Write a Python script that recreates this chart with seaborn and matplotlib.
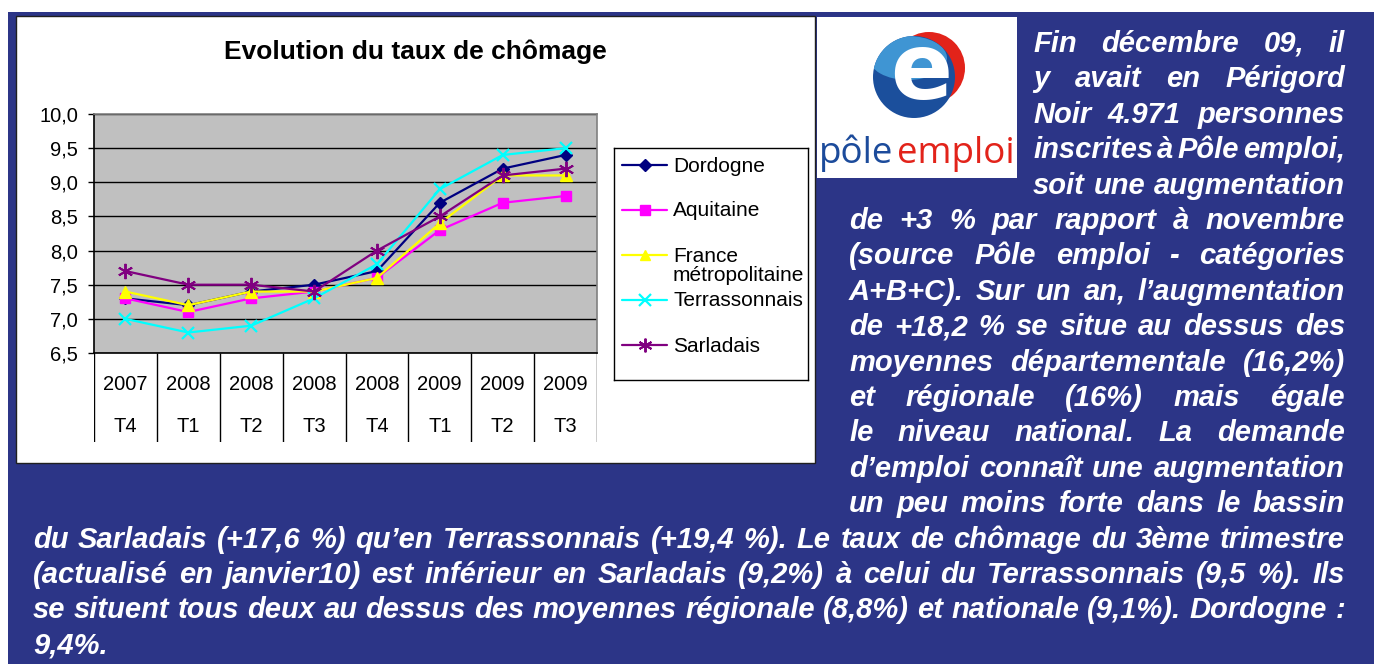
import matplotlib
matplotlib.use("Agg")
import matplotlib.pyplot as plt
from matplotlib import font_manager
from matplotlib.font_manager import FontProperties
from matplotlib.patches import Rectangle, Circle, Ellipse
import pandas as pd
import seaborn as sns

W, H = 1374, 664

# data
years = ["2007", "2008", "2008", "2008", "2008", "2009", "2009", "2009"]
quarters = ["T4", "T1", "T2", "T3", "T4", "T1", "T2", "T3"]
dordogne = [7.3, 7.2, 7.4, 7.5, 7.7, 8.7, 9.2, 9.4]
aquitaine = [7.3, 7.1, 7.3, 7.4, 7.6, 8.3, 8.7, 8.8]
france = [7.4, 7.2, 7.4, 7.4, 7.6, 8.4, 9.1, 9.1]
terrassonnais = [7.0, 6.8, 6.9, 7.3, 7.8, 8.9, 9.4, 9.5]
sarladais = [7.7, 7.5, 7.5, 7.4, 8.0, 8.5, 9.1, 9.2]
series_labels = ["Dordogne", "Aquitaine", "France\nmétropolitaine", "Terrassonnais", "Sarladais"]
y_ticks = [6.5, 7.0, 7.5, 8.0, 8.5, 9.0, 9.5, 10.0]
y_tick_labels = ["6,5", "7,0", "7,5", "8,0", "8,5", "9,0", "9,5", "10,0"]
title = "Evolution du taux de chômage"

text_right_top = [
    "Fin décembre 09, il",
    "y avait en Périgord",
    "Noir 4.971 personnes",
    "inscrites à Pôle emploi,",
    "soit une augmentation",
]
text_right_mid = [
    "de +3 % par rapport à novembre",
    "(source Pôle emploi - catégories",
    "A+B+C). Sur un an, l’augmentation",
    "de +18,2 % se situe au dessus des",
    "moyennes départementale (16,2%)",
    "et régionale (16%) mais égale",
    "le niveau national. La demande",
    "d’emploi connaît une augmentation",
    "un peu moins forte dans le bassin",
]
text_bottom = [
    "du Sarladais (+17,6 %) qu’en Terrassonnais (+19,4 %). Le taux de chômage du 3ème trimestre",
    "(actualisé en janvier10) est inférieur en Sarladais (9,2%) à celui du Terrassonnais (9,5 %). Ils",
    "se situent tous deux au dessus des moyennes régionale (8,8%) et nationale (9,1%). Dordogne :",
    "9,4%.",
]

df = pd.DataFrame({
    "pos": range(len(years)),
    "Dordogne": dordogne,
    "Aquitaine": aquitaine,
    "France": france,
    "Terrassonnais": terrassonnais,
    "Sarladais": sarladais,
})
styles = [
    ("Dordogne", "#000080", "D", 6.5, 1.0),
    ("Aquitaine", "#ff00ff", "s", 7.5, 1.0),
    ("France", "#ffff00", "^", 8.5, 1.0),
    ("Terrassonnais", "#00ffff", "x", 9, 1.6),
    ("Sarladais", "#800080", (6, 2, 0), 11, 1.4),
]

sns.set_style("ticks")
plt.rcParams["font.family"] = ["Liberation Sans", "DejaVu Sans"]
plt.rcParams["text.color"] = "black"
plt.rcParams["ytick.color"] = "black"
plt.rcParams["xtick.color"] = "black"

BLUE = "#2c3587"


def fbox(x0, y0, x1, y1):
    return [x0 / W, 1 - y1 / H, (x1 - x0) / W, (y1 - y0) / H]


fig = plt.figure(figsize=(W / 100, H / 100), dpi=100)
fig.patch.set_facecolor("white")
fig.add_artist(Rectangle((8 / W, 0), 1 - 8 / W, 1 - 12 / H, transform=fig.transFigure,
                         facecolor=BLUE, edgecolor="none", zorder=-3))
fig.add_artist(Rectangle((16 / W, 1 - 463 / H), (815 - 16) / W, (463 - 16) / H,
                         transform=fig.transFigure, facecolor="white",
                         edgecolor="#202020", lw=1, zorder=-2))

# main plot area
ax = fig.add_axes(fbox(94, 114, 597, 353))
ax.set_facecolor("#c0c0c0")
for name, color, marker, ms, mew in styles:
    sns.lineplot(data=df, x="pos", y=name, color=color, marker=marker, markersize=ms,
                 markeredgecolor=color, markeredgewidth=mew, linewidth=1.6,
                 ax=ax, legend=False, zorder=3)
ax.set_xlim(-0.5, len(years) - 0.5)
ax.set_ylim(6.5, 10.0)
ax.set_yticks(y_ticks)
ax.set_yticklabels(y_tick_labels, fontsize=14.5)
ax.set_xticks([])
ax.set_xlabel("")
ax.set_ylabel("")
ax.yaxis.grid(True, color="black", lw=1)
ax.set_axisbelow(True)
ax.tick_params(axis="y", direction="out", length=4.5, width=1, color="black", pad=7)
ax.spines["left"].set_color("black")
ax.spines["bottom"].set_color("black")
ax.spines["top"].set_color("#808080")
ax.spines["right"].set_color("#808080")
for s in ax.spines.values():
    s.set_linewidth(1.2)

# category table below the plot
ax_tab = fig.add_axes(fbox(94, 353, 597, 442))
ax_tab.set_xlim(-0.5, len(years) - 0.5)
ax_tab.set_ylim(1, 0)
ax_tab.axis("off")
ax_tab.vlines([i - 0.5 for i in range(len(years) + 1)], 0, 1, color="black", lw=1)
for i, (yr, q) in enumerate(zip(years, quarters)):
    ax_tab.text(i, 0.35, yr, ha="center", va="center", fontsize=14.5)
    ax_tab.text(i, 0.83, q, ha="center", va="center", fontsize=14.5)

fig.text(415 / W, 1 - 52 / H, title, ha="center", va="center", fontsize=19,
         fontweight="bold")

# legend box
ax_leg = fig.add_axes(fbox(614, 148, 808, 380))
ax_leg.set_xlim(0, 194)
ax_leg.set_ylim(232, 0)
ax_leg.set_xticks([])
ax_leg.set_yticks([])
ax_leg.set_facecolor("white")
for s in ax_leg.spines.values():
    s.set_color("black")
    s.set_linewidth(1)
row_y = [17, 62, 107, 152, 197]
for (name, color, marker, ms, mew), label, ry in zip(styles, series_labels, row_y):
    ax_leg.plot([8, 53], [ry, ry], color=color, lw=1.6)
    ax_leg.plot([30.5], [ry], color=color, marker=marker, markersize=ms * 0.9,
                markeredgecolor=color, markeredgewidth=mew)
    ax_leg.text(59, ry - 8.5, label, ha="left", va="top", fontsize=15, linespacing=1.02)

# logo
ax_logo = fig.add_axes(fbox(817, 17, 1017, 178))
ax_logo.set_xlim(817, 1017)
ax_logo.set_ylim(178, 17)
ax_logo.axis("off")
ax_logo.add_patch(Rectangle((817, 17), 200, 161, facecolor="white", edgecolor="none"))
ax_logo.add_patch(Circle((929, 68), 36, facecolor="#e2231a", edgecolor="none"))
ball = Circle((914, 77), 41, facecolor="#1b4f9c", edgecolor="none")
ax_logo.add_patch(ball)
hl = Ellipse((908, 58), 78, 44, facecolor="#3f95d3", edgecolor="none")
ax_logo.add_patch(hl)
hl.set_clip_path(ball)
ax_logo.text(921, 73, "e", ha="center", va="center", color="white", fontsize=66,
             fontweight="bold", family="DejaVu Sans")
ax_logo.text(819, 163, "pôle", ha="left", va="baseline", color="#1c4b9b", fontsize=26.5,
             family="Open Sans")
ax_logo.text(1015, 163, "emploi", ha="right", va="baseline", color="#e2231a", fontsize=26.5,
             family="Open Sans")

# justified paragraph
renderer = fig.canvas.get_renderer()
prop_main = FontProperties(family="Liberation Sans", weight="bold", style="italic", size=21)


def text_width(s, prop):
    return renderer.get_text_width_height_descent(s, prop, ismath=False)[0]


# the bottom lines are set in a narrow face; without one, shrink until they fit
names = {f.name for f in font_manager.fontManager.ttflist}
bot_family = "Liberation Sans Narrow" if "Liberation Sans Narrow" in names else "Liberation Sans"
bot_size = 21.0
while bot_size > 12:
    prop_bot = FontProperties(family=bot_family, weight="bold", style="italic", size=bot_size)
    ok = True
    for line in text_bottom[:-1]:
        words = line.split(" ")
        need = sum(text_width(w, prop_bot) for w in words) + (len(words) - 1) * 0.2 * bot_size * 100 / 72
        if need > 1345 - 33:
            ok = False
    if ok:
        break
    bot_size -= 0.25


def justify(line, x0, x1, y_base, prop, last=False):
    words = line.split(" ")
    widths = [text_width(w, prop) for w in words]
    gaps = len(words) - 1
    if last or gaps == 0:
        space = text_width("a a", prop) - text_width("aa", prop)
    else:
        space = (x1 - x0 - sum(widths)) / gaps
    x = x0
    for w, wd in zip(words, widths):
        fig.text(x / W, 1 - y_base / H, w, fontproperties=prop, color="white",
                 ha="left", va="baseline")
        x += wd + space


base0, step = 52, 35.4
k = 0
for line in text_right_top:
    justify(line, 1033, 1345, base0 + k * step, prop_main)
    k += 1
for line in text_right_mid:
    justify(line, 849, 1345, base0 + k * step, prop_main)
    k += 1
for i, line in enumerate(text_bottom):
    justify(line, 33, 1345, base0 + k * step, prop_bot, last=(i == len(text_bottom) - 1))
    k += 1

fig.savefig("out.png", dpi=100, facecolor=fig.get_facecolor())
